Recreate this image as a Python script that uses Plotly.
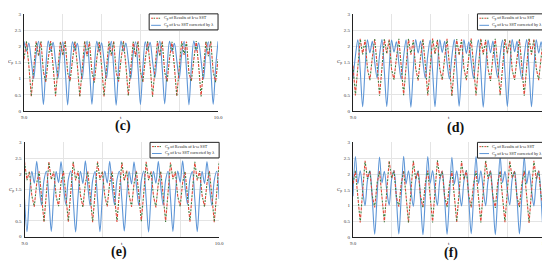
"""
Four-panel comparison of C_p time histories: plain k-omega SST results
(dashed, two-tone) against the corrected k-omega SST run (solid blue).
Panels (c)-(f), one legend box per panel.
"""

import plotly.graph_objects as go

TIME_S = [
    9.0, 9.0125, 9.025, 9.0375, 9.05, 9.0625, 9.075, 9.0875, 9.1, 9.1125,
    9.125, 9.1375, 9.15, 9.1625, 9.175, 9.1875, 9.2, 9.2125, 9.225, 9.2375,
    9.25, 9.2625, 9.275, 9.2875, 9.3, 9.3125, 9.325, 9.3375, 9.35, 9.3625,
    9.375, 9.3875, 9.4, 9.4125, 9.425, 9.4375, 9.45, 9.4625, 9.475, 9.4875,
    9.5, 9.5125, 9.525, 9.5375, 9.55, 9.5625, 9.575, 9.5875, 9.6, 9.6125,
    9.625, 9.6375, 9.65, 9.6625, 9.675, 9.6875, 9.7, 9.7125, 9.725, 9.7375,
    9.75, 9.7625, 9.775, 9.7875, 9.8, 9.8125, 9.825, 9.8375, 9.85, 9.8625,
    9.875, 9.8875, 9.9, 9.9125, 9.925, 9.9375, 9.95, 9.9625, 9.975, 9.9875,
    10.0,
]

# (c)
SST_C = [
    1.60, 2.15, 1.40, 0.45, 1.30, 2.15, 1.70, 2.15, 1.20, 0.90,
    1.62, 2.16, 1.38, 0.46, 1.32, 2.14, 1.72, 2.16, 1.18, 0.92,
    1.58, 2.15, 1.41, 0.44, 1.29, 2.16, 1.69, 2.14, 1.21, 0.88,
    1.61, 2.14, 1.39, 0.45, 1.31, 2.15, 1.71, 2.15, 1.19, 0.91,
    1.59, 2.16, 1.42, 0.47, 1.28, 2.14, 1.68, 2.16, 1.22, 0.89,
    1.60, 2.15, 1.40, 0.44, 1.30, 2.16, 1.70, 2.15, 1.20, 0.90,
    1.63, 2.14, 1.37, 0.46, 1.33, 2.15, 1.73, 2.14, 1.17, 0.92,
    1.59, 2.16, 1.41, 0.45, 1.29, 2.15, 1.69, 2.16, 1.21, 0.89,
    1.60,
]
CORR_C = [
    2.15, 1.85, 2.10, 1.55, 1.00, 1.75, 2.15, 1.30, 0.20, 1.35,
    2.16, 1.84, 2.12, 1.52, 1.02, 1.74, 2.14, 1.28, 0.19, 1.36,
    2.14, 1.86, 2.09, 1.56, 0.98, 1.77, 2.16, 1.31, 0.21, 1.33,
    2.15, 1.83, 2.11, 1.54, 1.01, 1.73, 2.15, 1.29, 0.18, 1.37,
    2.16, 1.85, 2.10, 1.57, 0.99, 1.76, 2.14, 1.32, 0.20, 1.34,
    2.14, 1.87, 2.12, 1.53, 1.03, 1.75, 2.16, 1.30, 0.22, 1.35,
    2.15, 1.84, 2.09, 1.55, 1.00, 1.74, 2.15, 1.27, 0.19, 1.36,
    2.16, 1.86, 2.11, 1.56, 0.98, 1.77, 2.14, 1.31, 0.21, 1.34,
    2.15,
]

# (d)
SST_D = [
    1.40, 0.48, 1.35, 2.23, 1.75, 2.20, 1.30, 0.95, 1.65, 2.23,
    1.42, 0.47, 1.33, 2.22, 1.77, 2.21, 1.28, 0.97, 1.63, 2.23,
    1.38, 0.49, 1.36, 2.23, 1.74, 2.19, 1.31, 0.94, 1.66, 2.22,
    1.41, 0.48, 1.34, 2.24, 1.76, 2.20, 1.29, 0.96, 1.64, 2.23,
    1.39, 0.46, 1.37, 2.22, 1.73, 2.21, 1.32, 0.95, 1.67, 2.24,
    1.40, 0.48, 1.35, 2.23, 1.75, 2.20, 1.30, 0.93, 1.65, 2.23,
    1.43, 0.49, 1.33, 2.23, 1.78, 2.19, 1.27, 0.96, 1.62, 2.22,
    1.39, 0.47, 1.36, 2.24, 1.74, 2.21, 1.31, 0.95, 1.66, 2.23,
    1.40,
]
CORR_D = [
    1.00, 1.70, 2.20, 1.25, 0.13, 1.30, 2.20, 1.80, 2.15, 1.50,
    1.02, 1.72, 2.21, 1.23, 0.14, 1.32, 2.19, 1.82, 2.14, 1.48,
    0.98, 1.69, 2.20, 1.26, 0.12, 1.29, 2.21, 1.79, 2.16, 1.51,
    1.01, 1.71, 2.19, 1.24, 0.13, 1.31, 2.20, 1.81, 2.15, 1.49,
    0.99, 1.68, 2.21, 1.27, 0.15, 1.28, 2.20, 1.78, 2.14, 1.52,
    1.00, 1.70, 2.20, 1.25, 0.12, 1.30, 2.19, 1.80, 2.16, 1.50,
    1.03, 1.73, 2.19, 1.22, 0.14, 1.33, 2.21, 1.83, 2.15, 1.47,
    0.99, 1.69, 2.21, 1.26, 0.13, 1.29, 2.20, 1.79, 2.14, 1.51,
    1.00,
]

# (e)
SST_E = [
    2.38, 1.80, 2.08, 1.30, 0.95, 1.70, 2.08, 1.30, 0.47, 1.40,
    2.37, 1.82, 2.07, 1.28, 0.97, 1.72, 2.09, 1.28, 0.48, 1.42,
    2.38, 1.79, 2.09, 1.31, 0.94, 1.69, 2.08, 1.31, 0.46, 1.39,
    2.39, 1.81, 2.08, 1.29, 0.96, 1.71, 2.07, 1.29, 0.47, 1.41,
    2.37, 1.78, 2.10, 1.32, 0.95, 1.68, 2.09, 1.32, 0.49, 1.38,
    2.38, 1.80, 2.08, 1.30, 0.93, 1.70, 2.08, 1.30, 0.47, 1.40,
    2.36, 1.83, 2.07, 1.27, 0.96, 1.73, 2.07, 1.27, 0.48, 1.43,
    2.38, 1.79, 2.09, 1.31, 0.95, 1.69, 2.09, 1.31, 0.46, 1.39,
    2.38,
]
CORR_E = [
    1.20, 0.16, 1.30, 2.08, 1.70, 2.40, 1.60, 1.00, 1.80, 2.08,
    1.22, 0.17, 1.32, 2.07, 1.72, 2.39, 1.58, 1.02, 1.82, 2.09,
    1.18, 0.15, 1.29, 2.08, 1.69, 2.41, 1.61, 0.98, 1.79, 2.07,
    1.21, 0.16, 1.31, 2.09, 1.71, 2.40, 1.59, 1.01, 1.81, 2.08,
    1.19, 0.18, 1.28, 2.07, 1.68, 2.38, 1.62, 0.99, 1.78, 2.09,
    1.20, 0.15, 1.30, 2.08, 1.70, 2.40, 1.60, 1.00, 1.80, 2.08,
    1.23, 0.17, 1.33, 2.09, 1.73, 2.41, 1.57, 1.03, 1.83, 2.07,
    1.19, 0.16, 1.29, 2.08, 1.69, 2.39, 1.61, 0.99, 1.79, 2.08,
    1.20,
]

# (f)
SST_F = [
    1.70, 2.10, 1.30, 0.47, 1.45, 2.42, 1.85, 2.10, 1.30, 0.95,
    1.72, 2.09, 1.28, 0.48, 1.47, 2.41, 1.87, 2.11, 1.28, 0.97,
    1.69, 2.10, 1.31, 0.46, 1.44, 2.42, 1.84, 2.09, 1.31, 0.94,
    1.71, 2.11, 1.29, 0.47, 1.46, 2.43, 1.86, 2.10, 1.29, 0.96,
    1.68, 2.09, 1.32, 0.49, 1.43, 2.41, 1.83, 2.11, 1.32, 0.95,
    1.70, 2.10, 1.30, 0.47, 1.45, 2.42, 1.85, 2.10, 1.30, 0.93,
    1.73, 2.09, 1.27, 0.48, 1.48, 2.40, 1.88, 2.09, 1.27, 0.96,
    1.69, 2.11, 1.31, 0.46, 1.44, 2.42, 1.84, 2.10, 1.31, 0.95,
    1.70,
]
CORR_F = [
    1.30, 2.55, 1.70, 2.10, 1.50, 1.00, 1.80, 2.10, 1.20, 0.10,
    1.32, 2.54, 1.72, 2.09, 1.48, 1.02, 1.82, 2.11, 1.22, 0.11,
    1.29, 2.56, 1.69, 2.10, 1.51, 0.98, 1.79, 2.10, 1.19, 0.09,
    1.31, 2.55, 1.71, 2.11, 1.49, 1.01, 1.81, 2.09, 1.21, 0.10,
    1.28, 2.53, 1.68, 2.10, 1.52, 0.99, 1.78, 2.11, 1.18, 0.12,
    1.30, 2.55, 1.70, 2.10, 1.50, 1.00, 1.80, 2.10, 1.20, 0.09,
    1.33, 2.56, 1.73, 2.09, 1.47, 1.03, 1.83, 2.09, 1.23, 0.11,
    1.29, 2.54, 1.69, 2.11, 1.51, 0.99, 1.79, 2.10, 1.19, 0.10,
    1.30,
]

Y_TICKS = [0, 0.5, 1, 1.5, 2, 2.5, 3]
Y_TICK_TEXT = ["0", "0.5", "1", "1.5", "2", "2.5", "3"]
X_TICKS = [9.0, 10.0]
X_TICK_TEXT = ["9.0", "10.0"]

NAME_SST = "C<sub>p</sub> of Results of k-ω SST"
NAME_CORR = "C<sub>p</sub> of k-ω SST corrected by λ"
PANEL_LABELS = ["(c)", "(d)", "(e)", "(f)"]

RED = "#e0483a"
GREEN = "#3f7a3a"
BLUE = "#5d95d6"
FONT = "Liberation Serif"

# (x domain, y domain, label x, label y) in paper coords, for a 550x262 page
PANELS = [
    ((0.024, 0.382), (0.607, 0.985), 0.206, 0.550),
    ((0.631, 0.987), (0.607, 0.985), 0.820, 0.542),
    ((0.025, 0.384), (0.118, 0.485), 0.200, 0.058),
    ((0.631, 0.987), (0.115, 0.485), 0.811, 0.056),
]
SERIES = [(SST_C, CORR_C), (SST_D, CORR_D), (SST_E, CORR_E), (SST_F, CORR_F)]


def add_panel(fig, idx, sst, corr, dom_x, dom_y, lab_x, lab_y):
    sfx = "" if idx == 0 else str(idx + 1)
    xa, ya = "x" + sfx, "y" + sfx

    fig.add_trace(go.Scatter(
        x=TIME_S, y=corr, mode="lines", xaxis=xa, yaxis=ya,
        line=dict(color=BLUE, width=1.1, shape="spline", smoothing=0.9),
        name=NAME_CORR, showlegend=False, hoverinfo="skip",
    ))
    # dashed series drawn twice: long red dashes, short green ones in the gaps
    fig.add_trace(go.Scatter(
        x=TIME_S, y=sst, mode="lines", xaxis=xa, yaxis=ya,
        line=dict(color=RED, width=1.1, dash="3px,4px"),
        name=NAME_SST, showlegend=False, hoverinfo="skip",
    ))
    fig.add_trace(go.Scatter(
        x=TIME_S, y=sst, mode="lines", xaxis=xa, yaxis=ya,
        line=dict(color=GREEN, width=1.1, dash="0px,4px,2px,1px"),
        showlegend=False, hoverinfo="skip",
    ))

    axis_common = dict(
        showgrid=True, gridcolor="#e4e4e4", gridwidth=0.6,
        zeroline=False, ticks="", tickfont=dict(size=5, color="#333"),
        showline=True, linecolor="#222", linewidth=1,
    )
    fig.update_layout({
        "xaxis" + sfx: dict(
            axis_common, domain=list(dom_x), anchor=ya, range=[9.0, 10.0],
            tickvals=X_TICKS, ticktext=X_TICK_TEXT, ticklabelstandoff=1,
            minor=dict(tick0=9.0, dtick=0.2, showgrid=True,
                       gridcolor="#e4e4e4", gridwidth=0.6),
        ),
        "yaxis" + sfx: dict(
            axis_common, domain=list(dom_y), anchor=xa, range=[0, 3],
            tickvals=Y_TICKS, ticktext=Y_TICK_TEXT, ticklabelstandoff=1,
        ),
    })

    xd, yd = xa + " domain", ya + " domain"
    # legend box, drawn by hand so it can be as small as the original
    fig.add_shape(type="rect", xref=xd, yref=yd, x0=0.645, x1=1.0,
                  y0=0.835, y1=1.0, line=dict(color="#222", width=1),
                  fillcolor="white", layer="above")
    fig.add_shape(type="line", xref=xd, yref=yd, x0=0.655, x1=0.705,
                  y0=0.955, y1=0.955, line=dict(color=RED, width=1, dash="2px,3px"))
    fig.add_shape(type="line", xref=xd, yref=yd, x0=0.655, x1=0.705,
                  y0=0.955, y1=0.955,
                  line=dict(color=GREEN, width=1, dash="0px,2.5px,1.5px,1px"))
    fig.add_shape(type="line", xref=xd, yref=yd, x0=0.655, x1=0.705,
                  y0=0.882, y1=0.882, line=dict(color=BLUE, width=1))
    for text, yy in [(NAME_SST, 0.955), (NAME_CORR, 0.882)]:
        fig.add_annotation(text=text, xref=xd, yref=yd, x=0.71, y=yy,
                           xanchor="left", yanchor="middle", showarrow=False,
                           font=dict(size=4.2, color="#222"))

    fig.add_annotation(text="C<sub>p</sub>", xref=xd, yref=yd, x=-0.045,
                       y=0.5, xanchor="right", yanchor="middle",
                       showarrow=False, font=dict(size=5, color="#333"))
    fig.add_annotation(text="t", xref=xd, yref=yd, x=0.5, y=-0.02,
                       xanchor="center", yanchor="top", showarrow=False,
                       font=dict(size=5, color="#333"))
    fig.add_annotation(text="<b>" + PANEL_LABELS[idx] + "</b>", xref="paper",
                       yref="paper", x=lab_x, y=lab_y, showarrow=False,
                       xanchor="center", yanchor="middle",
                       font=dict(size=14, color="#111", family=FONT))


fig = go.Figure()
for i, ((dx, dy, lx, ly), (s, c)) in enumerate(zip(PANELS, SERIES)):
    add_panel(fig, i, s, c, dx, dy, lx, ly)

fig.update_layout(
    width=550, height=262,
    margin=dict(l=0, r=0, t=0, b=0),
    paper_bgcolor="white", plot_bgcolor="white",
    font=dict(family=FONT, color="#222"),
    showlegend=False,
)

fig.write_html("out.html")
